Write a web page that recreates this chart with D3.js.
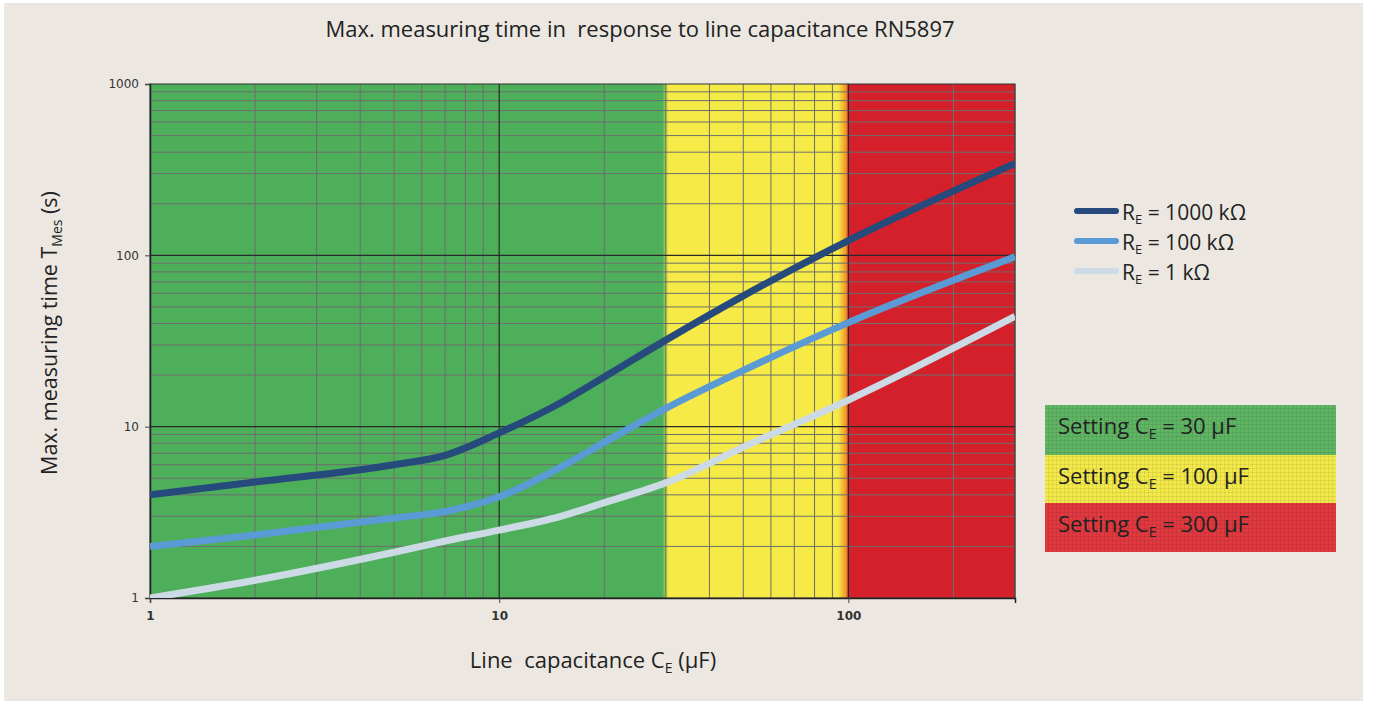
<!DOCTYPE html>
<html><head><meta charset="utf-8">
<script src="https://cdn.jsdelivr.net/npm/d3@7"></script>
<style>
html,body{margin:0;padding:0;background:#fff;}
svg{display:block;}
</style></head>
<body>
<script>
// ---- data ----
const capacitance = [1, 2, 5, 7, 10, 15, 20, 30, 50, 100, 300];
const t1000k = [4, 4.75, 6, 6.8, 9.2, 13.8, 19.5, 32, 58, 122, 344];
const t100k  = [2, 2.33, 2.93, 3.2, 3.9, 5.8, 8.1, 12.8, 21.3, 40.5, 98];
const t1k    = [1, 1.27, 1.85, 2.15, 2.49, 3.0, 3.6, 4.7, 7.6, 14.3, 44];
const seriesNames = ["1000 k\u03A9", "100 k\u03A9", "1 k\u03A9"];
const zoneBounds = [1, 30, 100, 300];
const zoneLabels = ["30 \u00B5F", "100 \u00B5F", "300 \u00B5F"];
const xTickValues = [1, 10, 100];
const yTickValues = [1, 10, 100, 1000];

const W = 1376, H = 704;
const svg = d3.select("body").append("svg").attr("width", W).attr("height", H);
const defs = svg.append("defs");

// background panel
svg.append("rect").attr("x", 4).attr("y", 3).attr("width", 1359).attr("height", 698).attr("fill", "#ECE8E1");

const m = {left: 150, right: 1015, top: 84, bottom: 598};
const x = d3.scaleLog().domain([1, 300]).range([m.left, m.right]);
const y = d3.scaleLog().domain([1, 1000]).range([m.bottom, m.top]);

const zoneColors = ["#4DAF59", "#F6EA46", "#D4202A"];

// zones with soft transitions
const g = svg.append("g");
const grad = defs.append("linearGradient").attr("id", "zones").attr("gradientUnits", "userSpaceOnUse")
  .attr("x1", m.left).attr("x2", m.right).attr("y1", 0).attr("y2", 0);
const frac = v => (x(v) - m.left) / (m.right - m.left);
const stops = [
  [0, zoneColors[0]],
  [frac(zoneBounds[1]) - 0.004, zoneColors[0]],
  [frac(zoneBounds[1]) + 0.003, zoneColors[1]],
  [frac(zoneBounds[2]) - 0.012, zoneColors[1]],
  [frac(zoneBounds[2]) - 0.003, "#EE9A2A"],
  [frac(zoneBounds[2]) + 0.001, zoneColors[2]],
  [1, zoneColors[2]]
];
grad.selectAll("stop").data(stops).join("stop").attr("offset", d => d[0]).attr("stop-color", d => d[1]);
g.append("rect").attr("x", m.left).attr("y", m.top).attr("width", m.right - m.left).attr("height", m.bottom - m.top)
  .attr("fill", "url(#zones)");

// grid lines
const minorX = [];
[1, 10, 100].forEach(d => { for (let k = 1; k <= 9; k++) { const v = d * k; if (v > 1 && v <= 300) minorX.push(v); } });
const minorY = [];
[1, 10, 100].forEach(d => { for (let k = 2; k <= 9; k++) minorY.push(d * k); });

g.selectAll("line.mx").data(minorX.filter(v => v !== 10 && v !== 100)).join("line")
  .attr("x1", d => x(d)).attr("x2", d => x(d)).attr("y1", m.top).attr("y2", m.bottom)
  .attr("stroke", "#6E6E6E").attr("stroke-width", 1);
g.selectAll("line.my").data(minorY).join("line")
  .attr("x1", m.left).attr("x2", m.right).attr("y1", d => y(d)).attr("y2", d => y(d))
  .attr("stroke", "#6E6E6E").attr("stroke-width", 1);
g.selectAll("line.Mx").data([10, 100]).join("line")
  .attr("x1", d => x(d)).attr("x2", d => x(d)).attr("y1", m.top).attr("y2", m.bottom)
  .attr("stroke", "#2a2a2a").attr("stroke-width", 1.2);
g.selectAll("line.My").data([10, 100]).join("line")
  .attr("x1", m.left).attr("x2", m.right).attr("y1", d => y(d)).attr("y2", d => y(d))
  .attr("stroke", "#2a2a2a").attr("stroke-width", 1.2);

// frame
g.append("rect").attr("x", m.left).attr("y", m.top).attr("width", m.right - m.left).attr("height", m.bottom - m.top)
  .attr("fill", "none").attr("stroke", "#333").attr("stroke-width", 1);

// axes
const tickFont = "'DejaVu Sans', sans-serif";
const yAxis = svg.append("g").attr("transform", `translate(${m.left},0)`)
  .call(d3.axisLeft(y).tickValues(yTickValues).tickFormat(d3.format("d")).tickSize(5).tickPadding(6));
const xAxis = svg.append("g").attr("transform", `translate(0,${m.bottom})`)
  .call(d3.axisBottom(x).tickValues(xTickValues).tickFormat(d3.format("d")).tickSize(5).tickPadding(8));
[yAxis, xAxis].forEach(a => {
  a.select(".domain").attr("stroke", "#222").attr("stroke-width", 1.5);
  a.selectAll(".tick line").attr("stroke", "#444");
  a.selectAll(".tick text").attr("font-family", tickFont).attr("font-size", 12).attr("fill", "#333");
});
xAxis.selectAll(".tick text").attr("font-weight", "bold").attr("fill", "#333");

// lines
const line = d3.line().x((d, i) => x(capacitance[i])).y(d => y(d)).curve(d3.curveMonotoneX);
const series = [t1000k, t100k, t1k];
const lineColors = ["#274A7C", "#5B9BD5", "#CCDAE6"];
const clip = defs.append("clipPath").attr("id", "plotclip");
clip.append("rect").attr("x", m.left).attr("y", m.top).attr("width", m.right - m.left).attr("height", m.bottom - m.top);
svg.append("g").attr("clip-path", "url(#plotclip)").selectAll("path").data(series).join("path")
  .attr("d", line).attr("fill", "none").attr("stroke", (d, i) => lineColors[i]).attr("stroke-width", 7)
  .attr("stroke-linecap", "butt").attr("stroke-linejoin", "round");

// texts
const font = "'Open Sans', sans-serif";
svg.append("text").attr("x", 640).attr("y", 37).attr("text-anchor", "middle")
  .attr("font-family", font).attr("font-size", 22).attr("fill", "#222")
  .text("Max. measuring time in\u00A0 response to line capacitance RN5897");

const xl = svg.append("text").attr("x", 593).attr("y", 668).attr("text-anchor", "middle")
  .attr("font-family", font).attr("font-size", 22).attr("fill", "#222");
xl.append("tspan").text("Line\u00A0 capacitance C");
xl.append("tspan").attr("font-size", 14).attr("dy", 5).text("E");
xl.append("tspan").attr("dy", -5).text(" (\u00B5F)");

const yl = svg.append("text").attr("transform", "translate(57,333) rotate(-90)").attr("text-anchor", "middle")
  .attr("font-family", font).attr("font-size", 21.5).attr("fill", "#222");
yl.append("tspan").text("Max. measuring time T");
yl.append("tspan").attr("font-size", 14).attr("dy", 5).text("Mes");
yl.append("tspan").attr("dy", -5).text(" (s)");

// legend
const leg = svg.append("g");
const legY = [211, 241, 271];
series.forEach((s, i) => {
  leg.append("line").attr("x1", 1077).attr("x2", 1116).attr("y1", legY[i]).attr("y2", legY[i])
    .attr("stroke", lineColors[i]).attr("stroke-width", 6).attr("stroke-linecap", "round");
  const t = leg.append("text").attr("x", 1122).attr("y", legY[i] + 9)
    .attr("font-family", font).attr("font-size", 21).attr("fill", "#222");
  t.append("tspan").text("R");
  t.append("tspan").attr("font-size", 13).attr("dy", 4).text("E");
  t.append("tspan").attr("dy", -4).text(" = " + seriesNames[i]);
});

// settings box with fine grid texture
const pat = defs.append("pattern").attr("id", "tex").attr("width", 4).attr("height", 4).attr("patternUnits", "userSpaceOnUse");
pat.append("path").attr("d", "M0,0.5H4M0.5,0V4").attr("stroke", "#000").attr("stroke-opacity", 0.07).attr("stroke-width", 1);
const boxX = 1045, boxW = 291, boxTop = 405, rowH = [50, 48, 49];
const boxColors = ["#5FB564", "#F4E94A", "#E0393F"];
let cy = boxTop;
zoneLabels.forEach((lab, i) => {
  leg.append("rect").attr("x", boxX).attr("y", cy).attr("width", boxW).attr("height", rowH[i]).attr("fill", boxColors[i]);
  leg.append("rect").attr("x", boxX).attr("y", cy).attr("width", boxW).attr("height", rowH[i]).attr("fill", "url(#tex)");
  const t = leg.append("text").attr("x", 1058).attr("y", cy + 29)
    .attr("font-family", font).attr("font-size", 22).attr("fill", "#222");
  t.append("tspan").text("Setting C");
  t.append("tspan").attr("font-size", 14).attr("dy", 5).text("E");
  t.append("tspan").attr("dy", -5).text(" = " + lab);
  cy += rowH[i];
});
</script>
</body></html>
